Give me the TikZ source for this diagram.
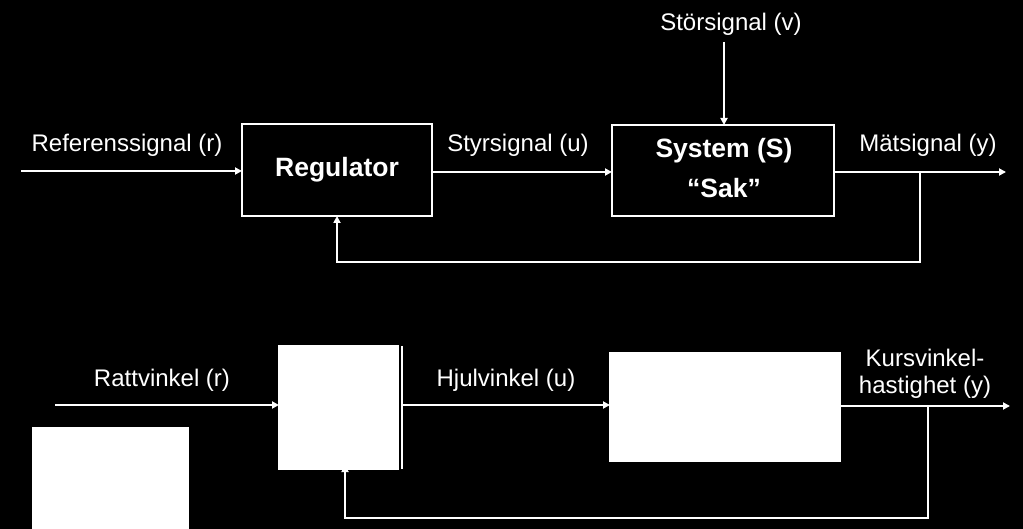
\documentclass[tikz,border=0pt]{standalone}
\usepackage{fontspec}
\setmainfont{Liberation Sans}
\usetikzlibrary{arrows.meta}
\begin{document}
\begin{tikzpicture}[x=1pt,y=-1pt,
  every node/.style={text=white,inner sep=0pt,outer sep=0pt},
  lbl/.style={font=\fontsize{24}{28}\selectfont},
  box/.style={draw=white,line width=2.5pt,rectangle,font=\fontsize{26.5}{32}\selectfont\bfseries,align=center},
  wbox/.style={draw=white,fill=white,line width=2pt,rectangle},
  line/.style={draw=white,line width=2.5pt},
  arr/.style={line,-{Triangle[length=7pt,width=7pt]}}]
\fill[black] (0,0) rectangle (1023,529);
\useasboundingbox (0,0) rectangle (1023,529);
% ---- top diagram ----
\node[box,minimum width=190pt,minimum height=92pt] (reg) at (337,170) {\raisebox{-2pt}{Regulator}};
\node[box,minimum width=222pt,minimum height=91pt] (sys) at (723,170.5) {};
\node[font=\fontsize{26.5}{32}\selectfont\bfseries] (sysA) at (724,151) {System (S)};
\node[font=\fontsize{26.5}{32}\selectfont\bfseries] (sysB) at (724,188) {“Sak”};
\coordinate (rin) at (21,171);
\coordinate (dist) at (724,42);
\coordinate (yout) at (1006,172);
\coordinate (tap) at (920,172);
\node[lbl] (lr) at (127,145) {Referenssignal (r)};
\node[lbl] (lu) at (518,145) {Styrsignal (u)};
\node[lbl] (lv) at (731,24) {Störsignal (v)};
\node[lbl] (ly) at (928,145) {Mätsignal (y)};
\draw[arr] (rin) -- (reg.west|-rin);
\draw[arr] (reg.east|-tap) -- (sys.west|-tap);
\draw[arr] (dist) -- (sys.north-|dist);
\draw[arr] (sys.east|-tap) -- (yout);
\draw[arr] (tap) -- ++(0,90) -| (reg.south);
% ---- bottom diagram ----
\node[wbox,minimum width=119pt,minimum height=123pt] (reg2) at (338.5,407.5) {};
\draw[line,line width=2pt] ([xshift=3.5pt]reg2.north east) coordinate (re1) -- ([xshift=3.5pt]reg2.south east) coordinate (re2);
\node[wbox,minimum width=230pt,minimum height=108pt] (sys2) at (725,407) {};
\node[wbox,minimum width=155pt,minimum height=110pt] (pic) at (110.5,483) {};
\coordinate (rin2) at (55,405);
\coordinate (yout2) at (1010,406);
\coordinate (tap2) at (928,406);
\node[lbl] (lr2) at (162,380) {Rattvinkel (r)};
\node[lbl] (lu2) at (506,380) {Hjulvinkel (u)};
\node[lbl] (ly2a) at (925,358) {Kursvinkel-};
\node[lbl] (ly2b) at (925,387) {hastighet (y)};
\draw[arr] (rin2) -- (reg2.west|-rin2);
\draw[arr] (re1|-rin2) -- (sys2.west|-rin2);
\draw[arr] (sys2.east|-tap2) -- (yout2);
\draw[arr] (tap2) -- ++(0,112) -| ([yshift=4pt]reg2.south-|345,0);
\end{tikzpicture}
\end{document}
